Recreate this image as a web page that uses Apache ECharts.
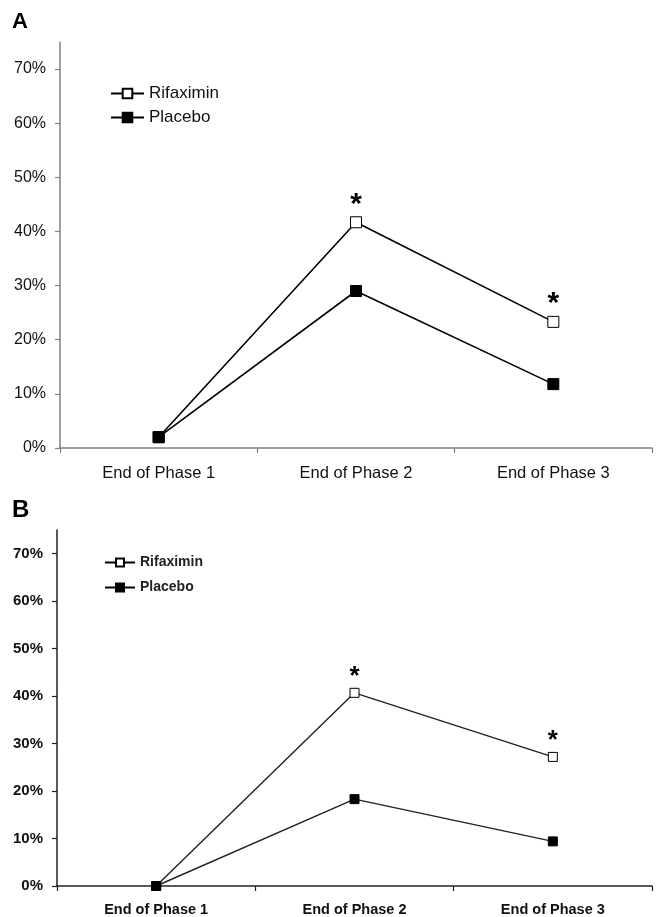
<!DOCTYPE html>
<html>
<head>
<meta charset="utf-8">
<script src="https://cdn.jsdelivr.net/npm/echarts@6/dist/echarts.min.js"></script>
<style>
  html, body { margin: 0; padding: 0; background: #fff; }
  #chart { width: 659px; height: 917px; }
</style>
</head>
<body>
<div id="chart"></div>
<script>
// Categories and values (percent of patients)
const phases = ['End of Phase 1', 'End of Phase 2', 'End of Phase 3'];
const yTicks = [0, 10, 20, 30, 40, 50, 60, 70];
const rifaximinA = [2, 41.7, 23.3];
const placeboA = [2, 29, 11.8];
const rifaximinB = [0, 40.7, 27.2];
const placeboB = [0, 18.3, 9.4];
// Indices of time points marked as significant (*)
const significantA = [1, 2];
const significantB = [1, 2];

const FONT = 'Liberation Sans, Arial, sans-serif';

function withStars(values, sig, starSize, dist) {
  return values.map((v, i) => sig.includes(i)
    ? { value: v, label: { show: true, formatter: '*', position: 'top', distance: dist,
        fontSize: starSize, fontWeight: 'bold', color: '#000', fontFamily: FONT } }
    : v);
}

function lineSeries(name, values, sig, idx, opts) {
  const open = name === 'Rifaximin';
  return {
    name: name,
    type: 'line',
    xAxisIndex: idx,
    yAxisIndex: idx,
    data: withStars(values, sig, opts.starSize, opts.starDist),
    symbol: 'rect',
    symbolSize: opts.symbolSize,
    showAllSymbol: true,
    lineStyle: { color: opts.lineColor, width: opts.lineWidth },
    itemStyle: open
      ? { color: '#fff', borderColor: '#000', borderWidth: 1 }
      : { color: '#000', borderColor: '#000', borderWidth: 1 },
    emphasis: { disabled: true },
    animation: false,
    z: open ? 2 : 3
  };
}

function xAxis(idx, color, labelStyle) {
  return {
    type: 'category',
    gridIndex: idx,
    data: phases,
    boundaryGap: true,
    axisLine: { lineStyle: { color: color, width: 1.5 } },
    axisTick: { show: true, length: 5, lineStyle: { color: color, width: 1.2 } },
    axisLabel: Object.assign({ color: '#111', fontFamily: FONT }, labelStyle)
  };
}

function yAxis(idx, color, labelStyle) {
  return {
    type: 'value',
    gridIndex: idx,
    min: 0,
    max: 75,
    interval: 10,
    splitLine: { show: false },
    axisLine: { show: true, lineStyle: { color: color, width: 1.5 } },
    axisTick: { show: true, length: 5, customValues: yTicks, lineStyle: { color: color, width: 1.2 } },
    axisLabel: Object.assign({ customValues: yTicks, margin: 14, color: '#111', fontFamily: FONT,
      formatter: v => v + '%' }, labelStyle)
  };
}

const chart = echarts.init(document.getElementById('chart'), null, { renderer: 'canvas' });

const styleA = { symbolSize: 11, lineColor: '#000', lineWidth: 1.6, starSize: 30, starDist: -3 };
const styleB = { symbolSize: 9, lineColor: '#222', lineWidth: 1.4, starSize: 26, starDist: -2 };

chart.setOption({
  backgroundColor: '#fff',
  animation: false,
  title: [
    { text: 'A', left: 12, top: 11, padding: 0, textStyle: { fontSize: 22, fontWeight: 'bold', color: '#000', fontFamily: FONT } },
    { text: 'B', left: 12, top: 498, padding: 0, textStyle: { fontSize: 24, fontWeight: 'bold', color: '#000', fontFamily: FONT } }
  ],
  legend: [
    { orient: 'vertical', left: 110, top: 85, padding: 0, itemWidth: 33, itemHeight: 12, itemGap: 7,
      data: ['Rifaximin', 'Placebo'], selectedMode: false,
      textStyle: { fontSize: 17, lineHeight: 17, color: '#111', fontFamily: FONT } },
    { orient: 'vertical', left: 104, top: 555, padding: 0, itemWidth: 30, itemHeight: 10, itemGap: 10,
      data: ['Rifaximin', 'Placebo'], selectedMode: false,
      textStyle: { fontSize: 14, lineHeight: 15, fontWeight: 'bold', color: '#222', fontFamily: FONT } }
  ],
  grid: [
    { left: 60, right: 7, top: 42, height: 406 },
    { left: 57, right: 7, top: 530, height: 358 }
  ],
  xAxis: [
    xAxis(0, '#808080', { fontSize: 16.5, margin: 17 }),
    xAxis(1, '#222', { fontSize: 14.5, fontWeight: 'bold', margin: 16 })
  ],
  yAxis: [
    yAxis(0, '#808080', { fontSize: 16 }),
    yAxis(1, '#222', { fontSize: 15, fontWeight: 'bold' })
  ],
  series: [
    lineSeries('Rifaximin', rifaximinA, significantA, 0, styleA),
    lineSeries('Placebo', placeboA, [], 0, styleA),
    lineSeries('Rifaximin', rifaximinB, significantB, 1, styleB),
    lineSeries('Placebo', placeboB, [], 1, styleB)
  ]
});
</script>
</body>
</html>
